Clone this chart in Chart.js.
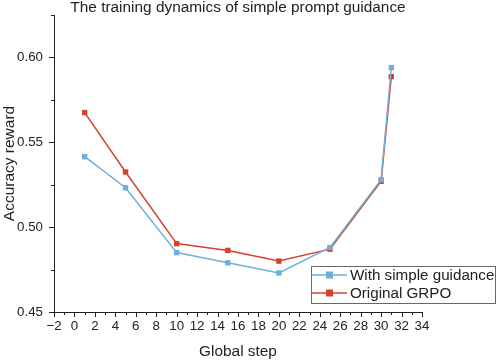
<!DOCTYPE html>
<html><head><meta charset="utf-8">
<script src="https://cdn.jsdelivr.net/npm/chart.js@4.4.0/dist/chart.umd.min.js"></script>
<style>html,body{margin:0;padding:0;background:#fff}#wrap{width:498px;height:361px}</style>
</head><body><div id="wrap"><canvas id="c" width="498" height="361"></canvas></div>
<script>
const steps = [1, 5, 10, 15, 20, 25, 30, 31];
const simpleGuidance = [0.5415, 0.5232, 0.4850, 0.4790, 0.4730, 0.4880, 0.5280, 0.5940];
const originalGRPO = [0.5675, 0.5325, 0.4903, 0.4863, 0.4800, 0.4870, 0.5270, 0.5887];
const seriesNames = ['With simple guidance', 'Original GRPO'];
const titleText = 'The training dynamics of simple prompt guidance';
const xTitle = 'Global step';
const yTitle = 'Accuracy reward';

const BLUE = '#6FAEDA', RED = '#D6402C', INK = '#222';
const FONT = "'Liberation Sans', Arial, sans-serif";

const tickPlugin = {
  id: 'ticks',
  afterDraw(chart) {
    const ctx = chart.ctx, x = chart.scales.x, y = chart.scales.y;
    ctx.save();
    ctx.strokeStyle = INK; ctx.lineWidth = 1;
    x.ticks.forEach(t => {
      const px = Math.round(x.getPixelForValue(t.value)) + 0.5;
      const major = Math.abs(t.value % 2) < 1e-9;
      ctx.beginPath(); ctx.moveTo(px, y.bottom); ctx.lineTo(px, y.bottom + (major ? 5 : 3)); ctx.stroke();
    });
    y.ticks.forEach(t => {
      const py = Math.round(y.getPixelForValue(t.value)) + 0.5;
      const major = Math.abs(t.value * 20 - Math.round(t.value * 20)) < 1e-6;
      ctx.beginPath(); ctx.moveTo(x.left, py); ctx.lineTo(x.left - (major ? 5 : 3), py); ctx.stroke();
    });
    // title
    ctx.fillStyle = INK; ctx.font = '15.4px ' + FONT; ctx.textAlign = 'center'; ctx.textBaseline = 'middle';
    ctx.fillText(chart.options.plugins.customTitle.text, (x.left + x.right) / 2, 7.5);
    // legend
    ctx.textAlign = 'left';
    const bx = 311.5, by = 266.5, bw = 184, bh = 37;
    ctx.fillStyle = '#fff'; ctx.fillRect(bx, by, bw, bh);
    ctx.strokeStyle = '#666'; ctx.strokeRect(bx, by, bw, bh);
    chart.data.datasets.forEach((ds, i) => {
      const ly = 275 + i * 18;
      ctx.strokeStyle = ds.borderColor; ctx.lineWidth = 1.5;
      ctx.beginPath(); ctx.moveTo(312, ly); ctx.lineTo(347, ly); ctx.stroke();
      ctx.fillStyle = ds.borderColor; ctx.fillRect(326, ly - 3.5, 7, 7);
      ctx.fillStyle = INK; ctx.font = '15.2px ' + FONT; ctx.textBaseline = 'middle';
      ctx.fillText(ds.label, 350, ly + 1);
    });
    ctx.restore();
  }
};

new Chart(document.getElementById('c'), {
  type: 'line',
  data: {
    datasets: [
      { label: seriesNames[0], data: steps.map((s, i) => ({x: s, y: simpleGuidance[i]})),
        borderColor: BLUE, backgroundColor: BLUE, borderWidth: 1.5, pointStyle: 'rect',
        pointRadius: 3.8, pointHoverRadius: 3.8, pointBorderWidth: 0, tension: 0 },
      { label: seriesNames[1], data: steps.map((s, i) => ({x: s, y: originalGRPO[i]})),
        borderColor: RED, backgroundColor: RED, borderWidth: 1.5, pointStyle: 'rect',
        pointRadius: 3.8, pointHoverRadius: 3.8, pointBorderWidth: 0, tension: 0 }
    ]
  },
  options: {
    responsive: false, animation: false, devicePixelRatio: 1,
    layout: { padding: { left: 0, right: 76, top: 15, bottom: 0 } },
    plugins: {
      legend: { display: false }, tooltip: { enabled: false }, title: { display: false },
      customTitle: { text: titleText }
    },
    scales: {
      x: {
        type: 'linear', min: -2, max: 34,
        afterFit(s) { s.height = 49; },
        ticks: { stepSize: 1, autoSkip: false, maxRotation: 0, color: INK, font: { family: FONT, size: 13.3 }, padding: 1,
          callback: v => (Math.abs(v % 2) < 1e-9 ? String(v).replace('-', '\u2212') : '') },
        grid: { drawOnChartArea: false, drawTicks: true, tickLength: 5, color: 'transparent' },
        border: { display: true, color: INK, width: 1 },
        title: { display: true, text: xTitle, color: INK, font: { family: FONT, size: 15.4 }, padding: { top: 4, bottom: 0 } }
      },
      y: {
        min: 0.45, max: 0.625,
        afterFit(s) { s.width = 54; },
        ticks: { stepSize: 0.025, autoSkip: false, color: INK, font: { family: FONT, size: 13.3 }, padding: 6,
          callback: v => (Math.abs(v * 20 - Math.round(v * 20)) < 1e-6 ? v.toFixed(2) : '') },
        grid: { drawOnChartArea: false, drawTicks: true, tickLength: 5, color: 'transparent' },
        border: { display: true, color: INK, width: 1 },
        title: { display: true, text: yTitle, color: INK, font: { family: FONT, size: 15.5 }, padding: { top: 0, bottom: 4 } }
      }
    }
  },
  plugins: [tickPlugin]
});
</script></body></html>
